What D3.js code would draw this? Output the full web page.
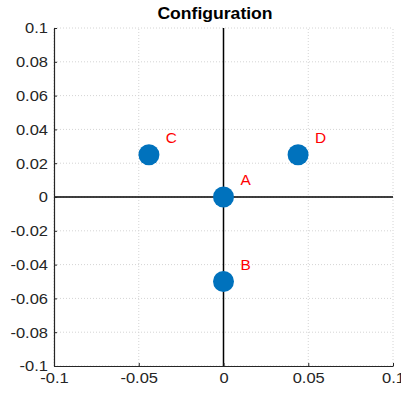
<!DOCTYPE html>
<html>
<head>
<meta charset="utf-8">
<script src="https://cdn.jsdelivr.net/npm/d3@7"></script>
<style>
  body { margin: 0; background: #fff; }
  svg { display: block; font-family: "Liberation Sans", Arial, sans-serif; }
  .wide { transform-box: fill-box; transform: scaleX(1.1); }
</style>
</head>
<body>
<svg id="chart" width="401" height="394"></svg>
<script>
const names = ['A', 'B', 'C', 'D'];
const xs = [0, 0, -0.044, 0.044];
const ys = [0, -0.05, 0.025, 0.025];
const xTicks = [-0.1, -0.05, 0, 0.05, 0.1];
const yTicks = [-0.1, -0.08, -0.06, -0.04, -0.02, 0, 0.02, 0.04, 0.06, 0.08, 0.1];

const margin = { left: 54, right: 8, top: 28, bottom: 28 };
const width = 401, height = 394;

const svg = d3.select('#chart');

const x = d3.scaleLinear().domain([-0.1, 0.1]).range([margin.left, width - margin.right]);
const y = d3.scaleLinear().domain([-0.1, 0.1]).range([height - margin.bottom, margin.top]);

// matlab style labels, plain hyphen for minus
const fmt = d => String(+d.toFixed(2));

// grid
svg.append('g')
   .selectAll('line')
   .data(xTicks)
   .enter()
   .append('line')
   .attr('x1', d => x(d)).attr('x2', d => x(d))
   .attr('y1', y(-0.1)).attr('y2', y(0.1))
   .attr('stroke', '#d4d4d4')
   .attr('stroke-dasharray', '1,2');

svg.append('g')
   .selectAll('line')
   .data(yTicks)
   .enter()
   .append('line')
   .attr('x1', x(-0.1)).attr('x2', x(0.1))
   .attr('y1', d => y(d)).attr('y2', d => y(d))
   .attr('stroke', '#d4d4d4')
   .attr('stroke-dasharray', '1,2');

// zero lines
svg.append('line')
   .attr('x1', x(0)).attr('x2', x(0))
   .attr('y1', y(-0.1)).attr('y2', y(0.1))
   .attr('stroke', '#000').attr('stroke-width', 1.5);
svg.append('line')
   .attr('x1', x(-0.1)).attr('x2', x(0.1))
   .attr('y1', y(0)).attr('y2', y(0))
   .attr('stroke', '#000').attr('stroke-width', 1.5);

// axes
const xAxis = svg.append('g')
  .attr('transform', `translate(0,${y(-0.1)})`)
  .call(d3.axisBottom(x).tickValues(xTicks).tickSize(-3).tickSizeOuter(0)
        .tickPadding(5).tickFormat(fmt));
const yAxis = svg.append('g')
  .attr('transform', `translate(${x(-0.1)},0)`)
  .call(d3.axisLeft(y).tickValues(yTicks).tickSize(-3).tickSizeOuter(0)
        .tickPadding(6).tickFormat(fmt));

[xAxis, yAxis].forEach(g => {
  g.select('.domain').attr('stroke', '#262626').attr('stroke-width', 1.2);
  g.selectAll('.tick line').attr('stroke', '#262626');
  g.selectAll('.tick text').attr('fill', '#262626').attr('class', 'wide')
   .style('font-size', '15px')
   .style('font-family', '"Liberation Sans", Arial, sans-serif');
});
xAxis.selectAll('.tick text').attr('dy', '0.78em').style('transform-origin', 'center');
yAxis.selectAll('.tick text').style('transform-origin', 'right center');

// points
svg.append('g')
   .selectAll('circle')
   .data(names)
   .enter()
   .append('circle')
   .attr('cx', (d, i) => x(xs[i]))
   .attr('cy', (d, i) => y(ys[i]))
   .attr('r', 10.5)
   .attr('fill', '#0072bd');

svg.append('g')
   .selectAll('text')
   .data(names)
   .enter()
   .append('text')
   .attr('class', 'wide')
   .style('transform-origin', 'left center')
   .attr('x', (d, i) => x(xs[i] + 0.01))
   .attr('y', (d, i) => y(ys[i] + 0.01) + 5)
   .attr('fill', '#ff0000')
   .style('font-size', '14px')
   .text(d => d);

svg.append('text')
   .attr('class', 'wide')
   .style('transform-origin', 'center')
   .attr('x', 215)
   .attr('y', 19)
   .attr('text-anchor', 'middle')
   .style('font-size', '16px')
   .style('font-weight', 'bold')
   .text('Configuration');
</script>
</body>
</html>
